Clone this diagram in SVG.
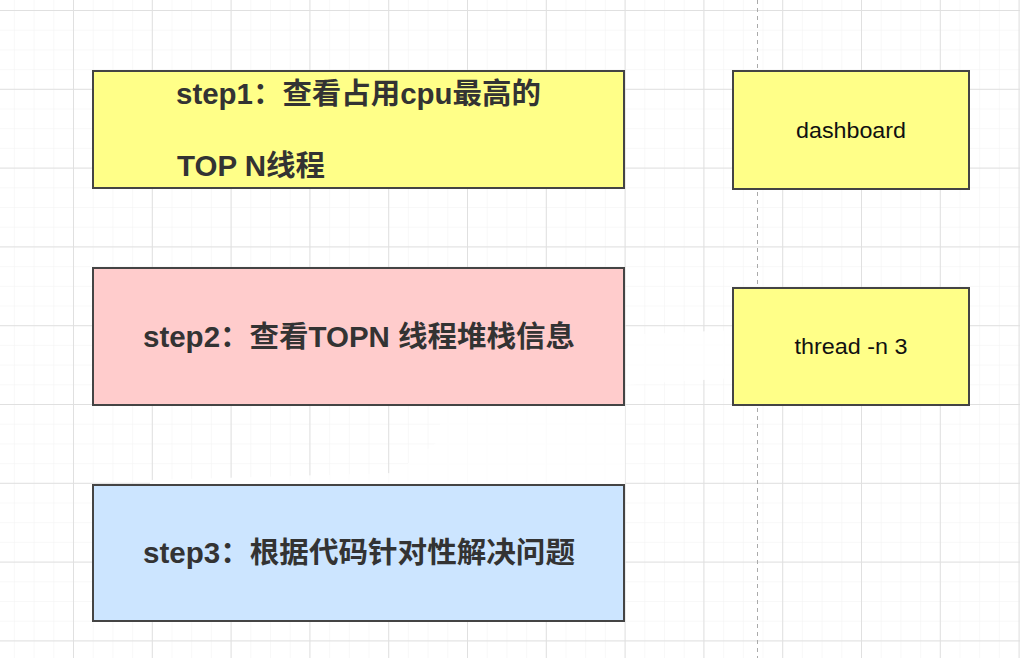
<svg xmlns="http://www.w3.org/2000/svg" width="1020" height="658" viewBox="0 0 1020 658">
<defs>
<pattern id="minor" x="73" y="10" width="19.7" height="19.7" patternUnits="userSpaceOnUse">
<path d="M0 0H19.7M0 0V19.7" fill="none" stroke="#f2f2f2" stroke-width="1"/>
</pattern>
<pattern id="major" x="73" y="10" width="78.8" height="78.8" patternUnits="userSpaceOnUse">
<path d="M0 0.5H78.8M0.5 0V78.8" fill="none" stroke="#e0e0e0" stroke-width="1"/>
</pattern>
</defs>
<style>
.box{stroke:#444;stroke-width:2}
.y{fill:#ffff88}
.r{fill:#ffcccc}
.b{fill:#cce5ff}
.big{font-family:"Liberation Sans","Noto Sans CJK SC",sans-serif;font-weight:bold;font-size:29px;fill:#333}
.small{font-family:"Liberation Sans","Noto Sans CJK SC",sans-serif;font-size:22px;fill:#111;text-anchor:middle}
</style>
<rect width="1020" height="658" fill="#fff"/>
<rect width="1020" height="658" fill="url(#minor)"/>
<rect width="1020" height="658" fill="url(#major)"/>
<g id="erased" fill="#fff" opacity="0.92">
<polygon points="440,406 625,406 625,484 380,484 440,440"/>
<polygon points="626,335 733,330 733,378 626,385"/>
<polygon points="150,480 500,470 480,484 150,484"/>
</g>
<line x1="757.5" y1="0" x2="757.5" y2="658" stroke="#aaa" stroke-width="1" stroke-dasharray="4,4"/>
<g id="connectors"></g>
<g id="step1">
<rect class="box y" x="93" y="71" width="531" height="117"/>
<text class="big" x="176" y="104" textLength="365" lengthAdjust="spacingAndGlyphs">step1：查看占用cpu最高的</text>
<text class="big" x="177" y="176" textLength="148" lengthAdjust="spacingAndGlyphs">TOP N线程</text>
</g>
<g id="step2">
<rect class="box r" x="93" y="268" width="531" height="137"/>
<text class="big" x="143" y="347" textLength="432" lengthAdjust="spacingAndGlyphs">step2：查看TOPN 线程堆栈信息</text>
</g>
<g id="step3">
<rect class="box b" x="93" y="485" width="531" height="136"/>
<text class="big" x="143" y="563" textLength="432" lengthAdjust="spacingAndGlyphs">step3：根据代码针对性解决问题</text>
</g>
<g id="dashboard">
<rect class="box y" x="733" y="71" width="236" height="118"/>
<text class="small" x="851" y="138" textLength="110" lengthAdjust="spacingAndGlyphs">dashboard</text>
</g>
<g id="thread">
<rect class="box y" x="733" y="288" width="236" height="117"/>
<text class="small" x="851" y="354" textLength="113" lengthAdjust="spacingAndGlyphs">thread -n 3</text>
</g>
</svg>
